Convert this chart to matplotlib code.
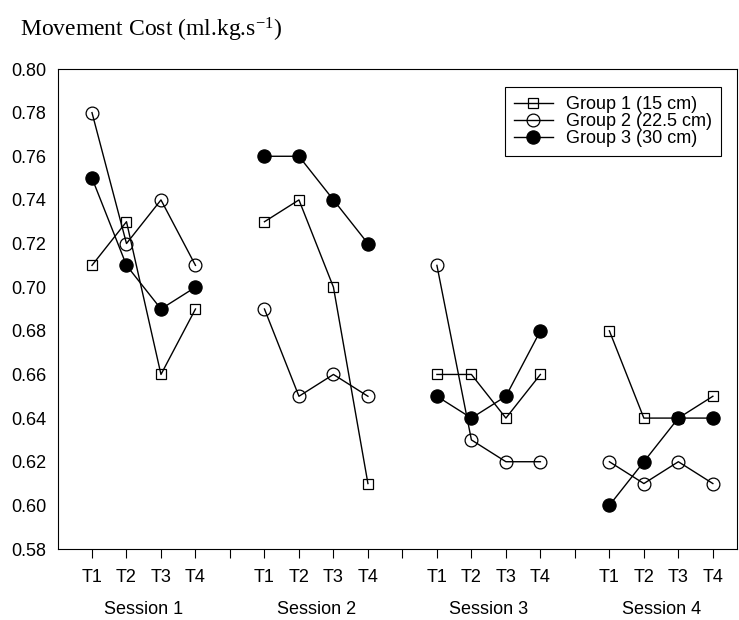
import matplotlib
matplotlib.use("Agg")
import matplotlib.pyplot as plt
from matplotlib.transforms import blended_transform_factory

plt.rcParams['font.family'] = ['Liberation Sans', 'DejaVu Sans']
plt.rcParams['mathtext.default'] = 'regular'

sessions = ["Session 1", "Session 2", "Session 3", "Session 4"]
times = ["T1", "T2", "T3", "T4"]
group_labels = ["Group 1 (15 cm)", "Group 2 (22.5 cm)", "Group 3 (30 cm)"]

# values per session (T1..T4)
group1 = [[0.71, 0.73, 0.66, 0.69],
          [0.73, 0.74, 0.70, 0.61],
          [0.66, 0.66, 0.64, 0.66],
          [0.68, 0.64, 0.64, 0.65]]
group2 = [[0.78, 0.72, 0.74, 0.71],
          [0.69, 0.65, 0.66, 0.65],
          [0.71, 0.63, 0.62, 0.62],
          [0.62, 0.61, 0.62, 0.61]]
group3 = [[0.75, 0.71, 0.69, 0.70],
          [0.76, 0.76, 0.74, 0.72],
          [0.65, 0.64, 0.65, 0.68],
          [0.60, 0.62, 0.64, 0.64]]
y_ticks = [0.58, 0.60, 0.62, 0.64, 0.66, 0.68, 0.70, 0.72, 0.74, 0.76, 0.78, 0.80]

W, H = 739, 620
fig = plt.figure(figsize=(W / 100, H / 100), dpi=100)
L, R, T, B = 57.5, 737, 69, 549
ax = fig.add_axes([L / W, 1 - B / H, (R - L) / W, (B - T) / H])

styles = [
    dict(marker='s', markersize=7.5, markerfacecolor='none'),
    dict(marker='o', markersize=9.2, markerfacecolor='none'),
    dict(marker='o', markersize=9.5, markerfacecolor='black'),
]
groups = [group1, group2, group3]

def xpos(s):
    return [s * 5 + i + 1 for i in range(len(times))]

for gi, (g, st) in enumerate(zip(groups, styles)):
    for s in range(len(sessions)):
        ax.plot(xpos(s), g[s], color='black', lw=1.0, markeredgecolor='black',
                markeredgewidth=0.9, label=group_labels[gi] if s == 0 else None, **st)

ax.set_xlim(0, 19.7)
ax.set_ylim(0.58, 0.80)
ax.set_yticks(y_ticks)
ax.set_yticklabels([f"{v:.2f}" for v in y_ticks], fontsize=13)
ax.tick_params(axis='y', length=0, pad=8)

ticks = list(range(1, 20))
labels = []
for t in ticks:
    if t % 5 == 0:
        labels.append("")
    else:
        labels.append(times[(t % 5) - 1])
ax.set_xticks(ticks)
ax.set_xticklabels(labels, fontsize=13)
ax.tick_params(axis='x', direction='out', length=6.5, width=0.8, pad=8)

for sp in ax.spines.values():
    sp.set_linewidth(0.8)

tr = blended_transform_factory(ax.transData, fig.transFigure)
for s, name in enumerate(sessions):
    xs = xpos(s)
    ax.text((xs[0] + xs[-1]) / 2, 1 - 610 / H, name, transform=tr,
            ha='center', va='center', fontsize=13)

fig.text(20 / W, 1 - 30 / H, r"Movement Cost (ml.kg.s$^{\mathregular{-1}}$)",
         family=['Liberation Serif', 'DejaVu Serif'], fontsize=17,
         ha='left', va='center')

leg = ax.legend(loc='upper right', bbox_to_anchor=((721 - L) / (R - L), (B - 87) / (B - T)),
                borderaxespad=0, fontsize=13, handlelength=2.2, handletextpad=0.7,
                labelspacing=0.0, borderpad=0.5, fancybox=False, framealpha=1,
                edgecolor='black')
leg.get_frame().set_linewidth(0.8)

fig.savefig("out.png", dpi=100)
